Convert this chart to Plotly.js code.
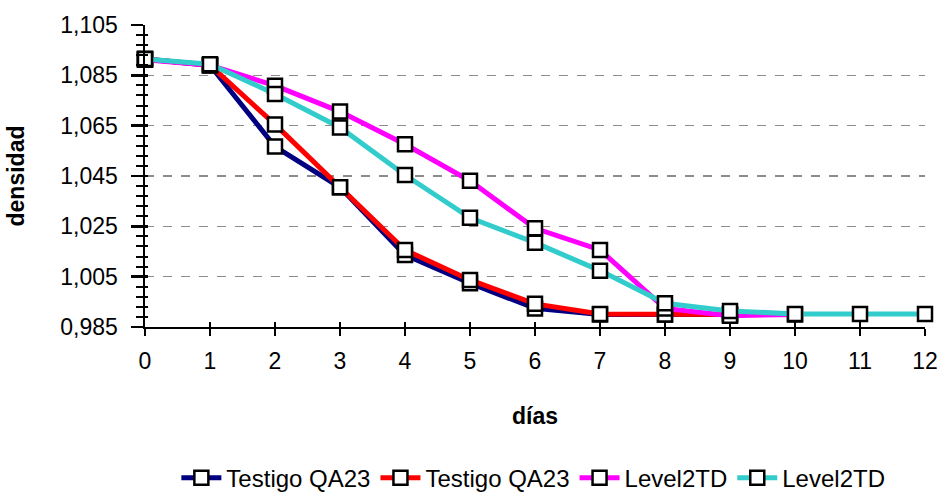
<!DOCTYPE html>
<html>
<head>
<meta charset="utf-8">
<script src="https://cdn.plot.ly/plotly-3.0.1.min.js"></script>
<style>html,body{margin:0;padding:0;background:#fff;}#chart{width:944px;height:493px;}</style>
</head>
<body>
<div id="chart"></div>
<script>
var days = [0,1,2,3,4,5,6,7,8,9,10,11,12];
var navyName = "Testigo QA23";
var redName = "Testigo QA23";
var magentaName = "Level2TD";
var cyanName = "Level2TD";
var navyVals = [1.0915,1.0890,1.0567,1.0405,1.0136,1.0024,0.9924,0.9900,0.9900,0.9900];
var redVals = [1.0915,1.0890,1.0655,1.0405,1.0156,1.0037,0.9942,0.9902,0.9900,0.9900];
var magentaVals = [1.0912,1.0890,1.0809,1.0706,1.0576,1.0431,1.0242,1.0156,0.9924,0.9895,0.9900];
var cyanVals = [1.0915,1.0894,1.0776,1.0643,1.0454,1.0284,1.0185,1.0074,0.9944,0.9914,0.9902,0.9902,0.9902];
var xTickLabels = ["0","1","2","3","4","5","6","7","8","9","10","11","12"];

function mk(name, vals, color){
  return {
    type:'scatter', mode:'lines+markers', name:name,
    x: days.slice(0, vals.length), y: vals,
    line:{color:color, width:5},
    marker:{symbol:'square', size:14, color:'#ffffff', line:{color:'#000000', width:2.5}},
    cliponaxis:false
  };
}
var traces = [
  mk(navyName, navyVals, '#000080'),
  mk(redName, redVals, '#ff0000'),
  mk(magentaName, magentaVals, '#ff00ff'),
  mk(cyanName, cyanVals, '#33cccc')
];
// overlay axes for ticks crossing the axis lines
traces.push({type:'scatter', x:[0], y:[1], xaxis:'x2', yaxis:'y2', mode:'markers', marker:{opacity:0}, showlegend:false, hoverinfo:'skip'});

var fam = '"Liberation Sans", Arial, sans-serif';
var layout = {
  width:944, height:493,
  margin:{l:145, r:19, t:25, b:166, autoexpand:false},
  paper_bgcolor:'#fff', plot_bgcolor:'#fff',
  separators:',.',
  font:{family:fam, color:'#000'},
  showlegend:true,
  legend:{orientation:'h', x:0.565, xanchor:'center', xref:'container', yref:'container', y:0.03, yanchor:'middle',
          itemwidth:40,
          font:{family:fam, size:24, color:'#000'}, tracegroupgap:0},
  xaxis:{
    range:[0,12], tickmode:'array', tickvals:days, ticktext:xTickLabels,
    showgrid:false, zeroline:false, showline:true, linecolor:'#000', linewidth:2,
    ticks:'outside', ticklen:7, tickwidth:2.5, tickcolor:'#000', ticklabelstandoff:5,
    tickfont:{family:fam, size:23, color:'#000'},
    title:{text:'<b>días</b>', font:{family:fam, size:23, color:'#000'}, standoff:35}
  },
  yaxis:{
    range:[0.985,1.105], tick0:0.985, dtick:0.02, tickformat:'.3f',
    showgrid:true, gridcolor:'#8c8c8c', griddash:'dash', gridwidth:1.3,
    zeroline:false, showline:true, linecolor:'#000', linewidth:2.5,
    ticks:'outside', ticklen:12, tickwidth:2.5, tickcolor:'#000', ticklabelstandoff:8,
    minor:{dtick:0.004, tick0:0.985, ticks:'outside', ticklen:7, tickwidth:2, tickcolor:'#000', showgrid:false},
    tickfont:{family:fam, size:23, color:'#000'},
    title:{text:'<b>densidad</b>', font:{family:fam, size:23, color:'#000'}, standoff:30}
  },
  xaxis2:{overlaying:'x', range:[0,12], tickmode:'array', tickvals:days, showticklabels:false,
    ticks:'inside', ticklen:5, tickwidth:2.5, tickcolor:'#000', showgrid:false, zeroline:false, showline:false, anchor:'y2', side:'bottom'},
  yaxis2:{overlaying:'y', range:[0.985,1.105], tick0:0.985, dtick:0.02, showticklabels:false,
    ticks:'inside', ticklen:3, tickwidth:2.5, tickcolor:'#000', showgrid:false, zeroline:false, showline:false, anchor:'x2', side:'left',
    minor:{dtick:0.004, tick0:0.985, ticks:'inside', ticklen:3, tickwidth:2, tickcolor:'#000', showgrid:false}}
};
Plotly.newPlot('chart', traces, layout, {displayModeBar:false, staticPlot:true});
</script>
</body>
</html>
